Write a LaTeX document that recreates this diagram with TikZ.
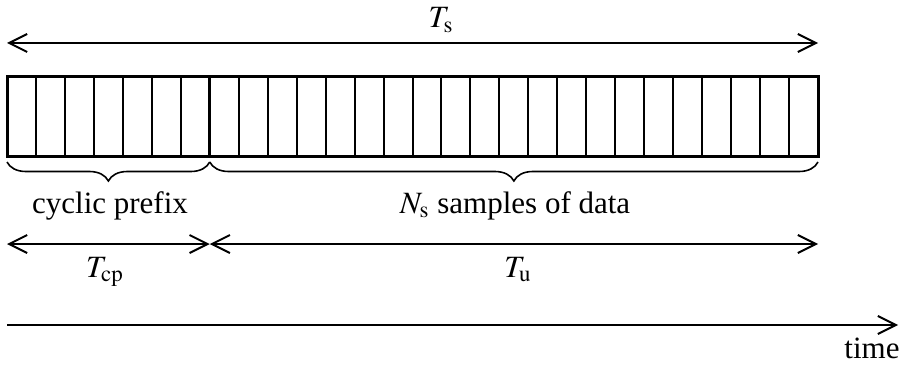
\documentclass[tikz,border=0pt]{standalone}
\usepackage{mathptmx}
\usepackage{fontspec}
\setmainfont{Liberation Serif}
\usetikzlibrary{arrows.meta,decorations.pathreplacing}
\tikzset{
  span/.style={line width=1pt, {Straight Barb[length=9pt,width=9pt]}-{Straight Barb[length=9pt,width=9pt]}},
  axis/.style={line width=1pt, -{Straight Barb[length=9pt,width=9pt]}},
  cbrace/.style={line width=0.8pt, decorate, decoration={brace, mirror, amplitude=9.5pt}},
  lbl/.style={anchor=base, inner sep=0pt}
}
\begin{document}
\begin{tikzpicture}[x=0.5pt, y=-0.5pt]
        \fontsize{15.5}{18}\selectfont
        \useasboundingbox (0, 0) rectangle (904, 369);

        % Samples
        \foreach \i in {1,...,27} {
            \draw[line width=1pt] ({7+\i*28.964}, 77) -- ({7+\i*28.964}, 156);
        }
        \draw[line width=1.5pt] (7, 77) rectangle (818, 156);
        \draw[line width=1.5pt] (209.75, 77) -- (209.75, 156);

        % Points
        \coordinate (s0) at (7, 43);
        \coordinate (s1) at (818, 43);
        \coordinate (b0) at (7, 162);
        \coordinate (b1) at (209.75, 162);
        \coordinate (b2) at (818, 162);
        \coordinate (d0) at (7, 244);
        \coordinate (d1) at (209.75, 244);
        \coordinate (d2) at (818, 244);
        \coordinate (t0) at (7, 325);
        \coordinate (t1) at (898, 325);

        % Arrows
        \draw[span] (s0) -- (s1);
        \draw[cbrace] (b0) -- (b1);
        \draw[cbrace] (b1) -- (b2);
        \draw[span] (d0) -- (d1);
        \draw[span] (d1) -- (d2);
        \draw[axis] (t0) -- (t1);

        % Labels
        \node[lbl] (ts) at (441, 28) {$T_\mathrm{s}$};
        \node[lbl] (cp) at (110, 213) {cyclic prefix};
        \node[lbl] (ns) at (515, 213) {$N_\mathrm{s}$ samples of data};
        \node[lbl] (tcp) at (105, 277) {$T_\mathrm{cp}$};
        \node[lbl] (tu) at (518, 277) {$T_\mathrm{u}$};
        \node[lbl] (time) at (872, 358) {time};
    \end{tikzpicture}
\end{document}
